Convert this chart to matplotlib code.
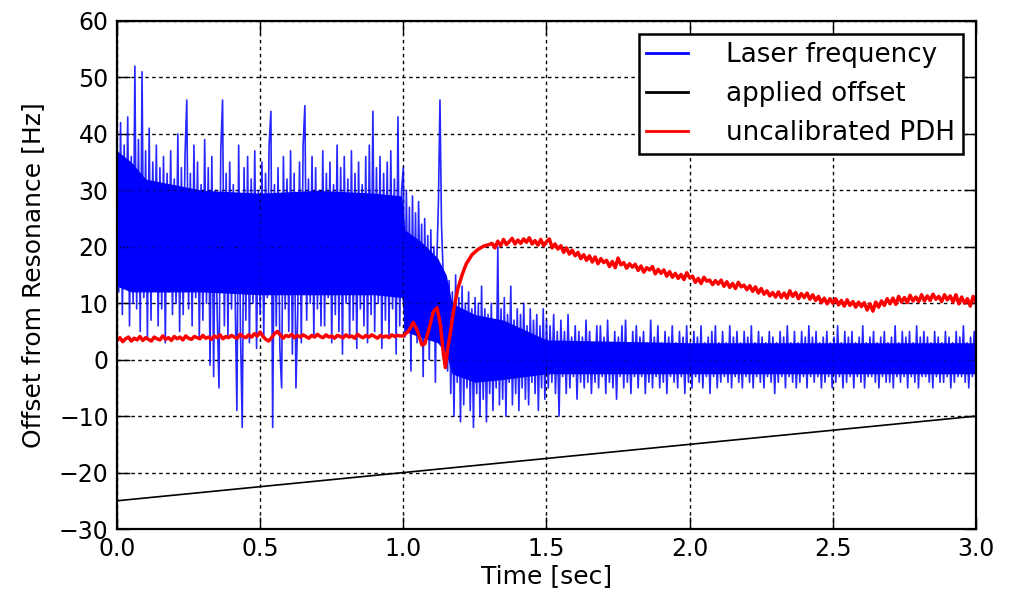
import numpy as np
import matplotlib
matplotlib.use("Agg")
import matplotlib.pyplot as plt

plt.rcParams['font.family'] = ['DejaVu Sans']

# applied offset (straight ramp)
offset_t = [0.0, 3.0]
offset_hz = [-25.0, -10.0]

# laser frequency
# 0.0 - 1.0 s
laser_a = [
    40, 12, 42, 8, 38, 15, 43, 6, 36, 10,
    52, 9, 39, 5, 51, 11, 37, 4, 41, 7,
    35, 13, 38, 6, 34, 9, 36, 3, 33, 12,
    37, 8, 32, 10, 40, 5, 34, 8, 36, 46,
    9, 33, 6, 38, 11, 35, 4, 31, 7, 39,
    10, 34, -1, 36, -3, 30, 8, -5, 37, 46,
    6, 33, 4, 35, 9, 31, 12, -9, 38, 5,
    -12, 34, 7, 36, 3, 32, 10, 37, 2, 30,
    8, 35, 4, 33, 11, 38, 44, -12, 31, 6,
    34, 2, -5, 36, 9, 32, 5, 37, 1, 33,
    -5, 8, 35, 3, 38, 45, 7, 32, 10, 36,
    4, 34, 9, 30, 6, 37, 6, 33, 11, 35,
    3, 31, 8, 38, 5, 34, 1, 36, 10, 32,
    4, 37, 7, 33, 2, 35, 9, 31, 6, 36,
    3, 38, 8, 44, 5, 34, 10, 36, 2, 33,
    7, 35, 4, 37, 9, 32, 1, 43, 6, 30,
]
# 1.0 - 1.16 s
laser_b = [
    34, 4, 30, 8, 27, -2, 29, 6, 26, 3,
    28, 10, 24, -3, 25, 5, 22, 0, 23, 7,
    20, -4, 18, 28, 46, 24, 16, 2, 14, -2,
]
# 1.16 - 1.5 s
laser_c = [
    14, -6, 12, -10, 15, -4, 11, -11, 13, -8,
    10, -5, 12, -9, 9, -12, 11, -6, 10, -10,
    13, -7, 9, -11, 8, -6, 10, -9, 7, -5,
    20, -8, 9, -7, 11, -10, 8, -4, 13, -8,
    7, -6, 9, -9, 8, -5, 10, -7, 6, -8,
    9, -4, 7, -6, 8, -9, 6, -5, 9, -7,
]
# 1.5 - 3.0 s
laser_d = [
    7, -5, 6, -4, 8, -6, 5, -10, 7, -3,
    5, -6, 8, -5, 4, -3, 6, -7, 5, -4,
    4, -5, 7, -4, 5, -6, 3, -4, 6, -5,
    6, -3, 4, -6, 7, -4, 3, -5, 5, -7,
    4, -3, 6, -5, 7, -4, 3, -6, 5, -3,
    6, -5, 4, -3, 5, -6, 3, -4, 7, -5,
    4, -3, 6, -5, 3, -4, 5, -6, 4, -3,
    6, -4, 3, -5, 5, -3, 4, -6, 6, -4,
    3, -5, 5, -3, 4, -4, 6, -5, 3, -3,
    4, -6, 5, -3, 6, -5, 3, -4, 5, -3,
    3, -4, 6, -5, 4, -3, 5, -4, 3, -5,
    5, -3, 4, -4, 6, -5, 3, -3, 5, -4,
    4, -5, 3, -3, 5, -4, 4, -6, 3, -4,
    5, -3, 4, -5, 6, -3, 3, -4, 5, -5,
    3, -4, 5, -3, 4, -5, 6, -3, 4, -4,
    5, -3, 3, -5, 4, -4, 5, -3, 3, -5,
    4, -4, 6, -3, 3, -5, 5, -4, 4, -3,
    5, -5, 3, -3, 4, -4, 6, -5, 3, -3,
    4, -3, 5, -4, 3, -5, 4, -3, 5, -4,
    3, -4, 4, -5, 6, -3, 3, -4, 5, -3,
    4, -5, 5, -3, 3, -4, 6, -5, 4, -3,
    5, -3, 4, -4, 3, -5, 5, -3, 4, -4,
    3, -4, 5, -3, 4, -5, 3, -4, 5, -3,
    4, -3, 6, -4, 3, -5, 4, -3, 5, -4,
]

# dense core of the laser trace (where the samples pile up into a solid band)
core_t = [0.0, 0.05, 0.1, 0.3, 0.5, 0.7, 0.9, 0.995, 1.005, 1.06, 1.12,
          1.15, 1.17, 1.25, 1.35, 1.5, 2.0, 2.5, 3.0]
core_hi = [37, 35, 32, 30, 29.5, 30, 29.5, 29, 23, 21, 18,
           15, 10, 8, 7, 3.5, 3, 3, 3]
core_lo = [13, 12, 12, 12, 11.5, 11.5, 11.5, 11, 5, 4, 3,
           1, -2.5, -4, -3.5, -2.5, -2.5, -2.5, -2.5]

# uncalibrated PDH signal
# 0.0 - 1.0 s
pdh_a = [
    3.4, 3.9, 3.2, 3.7, 4.0, 3.3, 3.8, 3.5, 4.1, 3.4,
    3.9, 3.6, 3.3, 4.0, 3.7, 3.5, 4.2, 3.6, 3.9, 3.4,
    4.1, 3.7, 4.0, 3.5, 4.2, 3.8, 3.6, 4.1, 3.9, 3.7,
    4.3, 3.8, 4.0, 3.6, 4.2, 3.9, 4.4, 3.7, 4.1, 3.9,
    4.3, 4.0, 3.8, 4.5, 4.1, 3.9, 4.4, 4.0, 4.6, 4.2,
    4.9, 4.1, 3.6, 3.3, 3.9, 4.6, 5.0, 4.4, 3.8, 4.3,
    4.1, 4.5, 3.9, 4.3, 4.0, 4.4, 4.1, 3.8, 4.3, 4.0,
    4.5, 4.1, 3.9, 4.4, 4.0, 4.2, 3.8, 4.3, 4.1, 3.9,
    4.4, 4.0, 4.2, 3.8, 4.5, 4.1, 3.9, 4.3, 4.0, 4.4,
    4.1, 3.8, 4.3, 4.0, 4.2, 3.9, 4.4, 4.1, 4.3, 4.2,
]
# 1.0 - 1.3 s (the lock transient)
pdh_b_t = [1.00, 1.02, 1.035, 1.05, 1.065, 1.075, 1.09, 1.105, 1.118, 1.13,
           1.14, 1.147, 1.155, 1.165, 1.175, 1.19, 1.205, 1.22, 1.24, 1.26,
           1.28, 1.30]
pdh_b = [4.2, 5.2, 6.6, 5.0, 2.6, 2.8, 5.5, 8.5, 9.2, 6.0,
         1.0, -1.4, 2.0, 5.0, 8.5, 12.5, 15.0, 17.0, 18.6, 19.5,
         20.1, 20.4]
# 1.3 - 3.0 s
pdh_c = [
    20.6, 19.8, 21.0, 20.2, 21.3, 20.4, 20.9, 21.5, 20.5, 21.2,
    20.6, 21.4, 20.8, 21.6, 20.5, 21.1, 20.3, 21.3, 20.2, 20.9,
    21.4, 19.8, 20.5, 19.6, 20.2, 19.0, 19.8, 18.7, 19.4, 18.4,
    19.0, 17.9, 18.6, 17.6, 18.4, 17.3, 18.2, 17.0, 17.9, 17.2,
    17.6, 16.5, 17.4, 16.3, 18.0, 16.8, 17.2, 16.2, 17.0, 16.4,
    16.9, 15.8, 16.6, 15.5, 16.3, 15.9, 16.5, 15.2, 16.0, 15.3,
    15.9, 14.8, 15.6, 14.6, 15.3, 14.4, 15.1, 14.2, 15.4, 14.5,
    14.8, 13.7, 14.4, 13.5, 14.6, 13.9, 14.1, 13.3, 14.0, 13.4,
    14.1, 13.0, 13.8, 12.8, 13.5, 12.6, 13.7, 12.9, 13.2, 12.4,
    13.1, 12.1, 12.9, 11.8, 12.6, 11.6, 12.2, 11.3, 11.9, 11.1,
    12.0, 11.0, 11.8, 10.9, 12.2, 11.2, 11.9, 10.8, 11.7, 11.0,
    11.8, 10.7, 11.5, 10.5, 11.2, 10.1, 10.9, 9.9, 10.8, 10.0,
    10.8, 9.7, 10.5, 9.5, 10.6, 9.6, 10.3, 9.3, 10.2, 9.4,
    10.1, 8.8, 9.9, 8.6, 10.2, 9.3, 10.4, 9.6, 10.8, 9.9,
    10.9, 9.8, 11.2, 10.2, 11.0, 10.1, 11.4, 10.4, 11.1, 10.3,
    11.5, 10.4, 11.3, 10.5, 11.6, 10.7, 11.2, 10.3, 11.5, 10.6,
    11.3, 10.2, 11.5, 9.9, 11.1, 10.0, 10.8, 9.5, 11.2, 10.1,
]

# sample times for each segment
laser_t = np.concatenate([
    np.linspace(0.0, 1.0, len(laser_a), endpoint=False),
    np.linspace(1.0, 1.16, len(laser_b), endpoint=False),
    np.linspace(1.16, 1.5, len(laser_c), endpoint=False),
    np.linspace(1.5, 3.0, len(laser_d)),
])
laser_hz = np.concatenate([laser_a, laser_b, laser_c, laser_d])

pdh_t = np.concatenate([
    np.linspace(0.0, 1.0, len(pdh_a), endpoint=False),
    pdh_b_t,
    np.linspace(1.3, 3.0, len(pdh_c) + 1)[1:],
])
pdh_hz = np.concatenate([pdh_a, pdh_b, pdh_c])

fig = plt.figure(figsize=(10.12, 5.93), dpi=100)
ax = fig.add_axes([0.1156, 0.1079, 0.8488, 0.8567])

ax.fill_between(core_t, core_lo, core_hi, color='#0000ff', lw=0)
ax.plot(laser_t, laser_hz, color='#0000ff', lw=1.2, alpha=0.85,
        label='Laser frequency')
ax.plot(offset_t, offset_hz, color='black', lw=1.2, label='applied offset')
ax.plot(pdh_t, pdh_hz, color='#ff0000', lw=2.5, label='uncalibrated PDH')

ax.set_xlim(0, 3.0)
ax.set_ylim(-30, 60)
ax.set_xticks(np.arange(0, 3.01, 0.5))
ax.set_yticks(np.arange(-30, 61, 10))
ax.xaxis.set_major_formatter(matplotlib.ticker.FormatStrFormatter('%.1f'))
ax.grid(True, color='black', linestyle=(0, (2.5, 2.5)), lw=1.0)

for s in ax.spines.values():
    s.set_linewidth(1.6)
ax.tick_params(direction='in', length=9, width=1, top=True, right=True,
               labelsize=17, pad=6)

ax.set_xlabel('Time [sec]', fontsize=18, labelpad=2)
ax.set_ylabel('Offset from Resonance [Hz]', fontsize=18, labelpad=10)

leg = ax.legend(loc='upper right', fontsize=18.8, fancybox=False, framealpha=1,
                handlelength=1.6, handletextpad=1.45, labelspacing=0.5,
                borderpad=0.3, borderaxespad=0.5)
leg.get_frame().set_edgecolor('black')
leg.get_frame().set_linewidth(1.8)
for h in leg.get_lines():
    h.set_linewidth(2)
    h.set_alpha(1)

fig.savefig('out.png', dpi=100)
